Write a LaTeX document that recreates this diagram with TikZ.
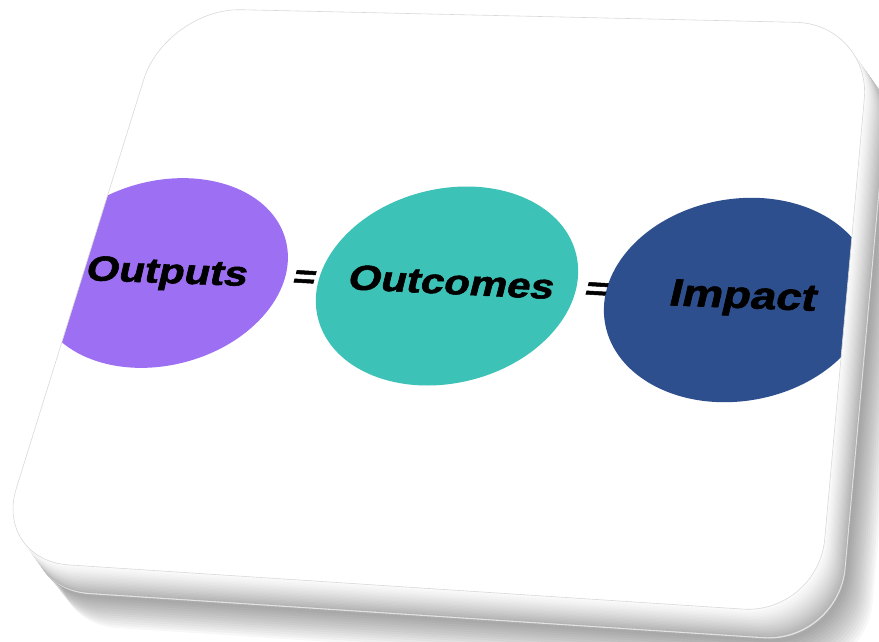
\documentclass[tikz,border=0pt]{standalone}
\usepackage{fontspec}
\newfontfamily\labelfont[FakeSlant=0.15,FakeBold=1.6]{Liberation Sans}
\definecolor{outputsc}{RGB}{157,111,242}
\definecolor{outcomesc}{RGB}{60,194,183}
\definecolor{impactc}{RGB}{46,79,142}

\begin{document}
\begin{tikzpicture}[x=1pt,y=-1pt,
   card/.style={rounded corners=75pt,insert path={(518,16) -- (871,24) -- (818,614) -- (-6,560) -- (166,8) -- cycle}},
   word/.style={anchor=base,inner sep=0pt,xscale=1.2,transform shape,font=\labelfont\bfseries\fontsize{35}{40}\selectfont},
   eqsign/.style={inner sep=0pt,xscale=1.2,transform shape,font=\labelfont\bfseries\fontsize{32}{36}\selectfont}]
   \useasboundingbox (0,0) rectangle (879,641);
   \foreach \k in {1,...,14}
      \fill[black,opacity=0.03,shift={(20+2*\k,28+2.5*\k)},card];
   \fill[gray!65,shift={(21.5,30.5)},card];
   \fill[gray!22,shift={(20.8,29.2)},card];
   \foreach \i in {20,...,1} {
      \pgfmathsetmacro\t{\i/20}
      \pgfmathsetmacro\g{3+55*\t^1.3}
      \fill[gray!\g,shift={(20*\t,28*\t)},card];
   }
   \fill[white,card];
   \begin{scope}
      \clip[card];
      \fill[outputsc,rotate around={15:(162,273)}] (162,273) ellipse [x radius=128,y radius=92];
      \fill[outcomesc,rotate around={14:(447,286)}] (447,286) ellipse [x radius=133,y radius=97];
      \fill[impactc,rotate around={10:(738,300)}] (738,300) ellipse [x radius=135,y radius=101];
   \end{scope}
   \draw[gray!30,line width=0.6pt,card];
   \node[word,rotate=-2.5] (outputs) at (165,283) {Outputs};
   \node[word,rotate=-3.3] (outcomes) at (449,294) {Outcomes};
   \node[word,rotate=-2.6,font=\labelfont\bfseries\fontsize{38}{42}\selectfont] (impact) at (741,308) {Impact};
   \node[eqsign,rotate=-4] (eq1) at (303,279) {=};
   \node[eqsign,rotate=-4] (eq2) at (595,291) {=};
\end{tikzpicture}
\end{document}
